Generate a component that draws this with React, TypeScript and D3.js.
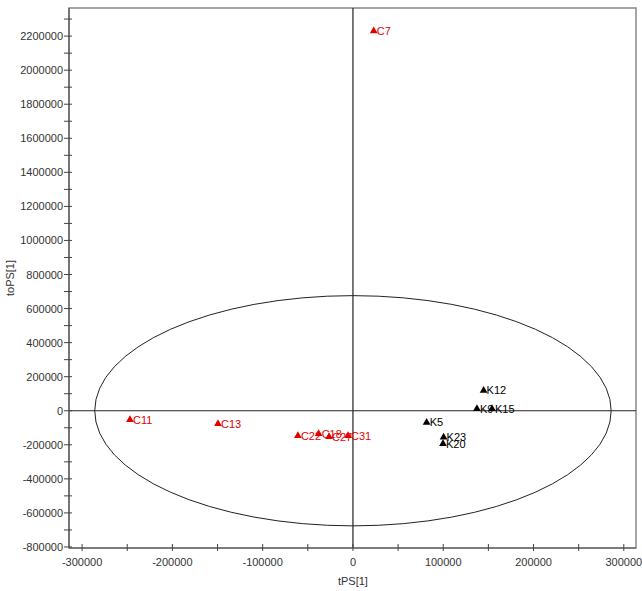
import React, { useEffect, useRef } from "react";
import * as d3 from "d3";

// score values
const names = ["C7", "C11", "C13", "C22", "C18", "C27", "C31", "K5", "K9", "K12", "K15", "K20", "K23"];
const tPS = [23000, -247000, -149500, -61000, -38000, -26500, -5500, 81600, 137300, 144700, 154000, 99700, 100400];
const toPS = [2230000, -53000, -76000, -147000, -135000, -153000, -147000, -69000, 12000, 119000, 12000, -194000, -155000];
const groups = ["C", "C", "C", "C", "C", "C", "C", "K", "K", "K", "K", "K", "K"];

const xTicks = [-300000, -200000, -100000, 0, 100000, 200000, 300000];
const yTicks = [-800000, -600000, -400000, -200000, 0, 200000, 400000, 600000, 800000, 1000000, 1200000, 1400000, 1600000, 1800000, 2000000, 2200000];
const ellipseRadii = [286000, 676000];

const W = 642;
const H = 591;

export default function App() {
  const ref = useRef<SVGSVGElement>(null);

  useEffect(() => {
    const svg = d3.select(ref.current);
    svg.selectAll("*").remove();

    const left = 69, right = 636, top = 8, bottom = 548;
    const x = d3.scaleLinear().domain([-314500, 313500]).range([left, right]);
    const y = d3.scaleLinear().domain([-806000, 2365000]).range([bottom, top]);

    const font = "'Liberation Sans', Arial, sans-serif";

    // frame
    svg.append("rect")
      .attr("x", left).attr("y", top)
      .attr("width", right - left).attr("height", bottom - top)
      .attr("fill", "white")
      .attr("stroke", "#888").attr("stroke-width", 1.5);

    // zero lines
    svg.append("line")
      .attr("x1", x(0)).attr("x2", x(0)).attr("y1", top).attr("y2", bottom)
      .attr("stroke", "#222").attr("stroke-width", 1.2);
    svg.append("line")
      .attr("x1", left).attr("x2", right).attr("y1", y(0)).attr("y2", y(0))
      .attr("stroke", "#222").attr("stroke-width", 1.2);

    // ellipse
    svg.append("ellipse")
      .attr("cx", x(0)).attr("cy", y(0))
      .attr("rx", x(ellipseRadii[0]) - x(0))
      .attr("ry", y(0) - y(ellipseRadii[1]))
      .attr("fill", "none").attr("stroke", "#222").attr("stroke-width", 1);

    // axes lines
    svg.append("line").attr("x1", left).attr("x2", left).attr("y1", top).attr("y2", bottom)
      .attr("stroke", "#555").attr("stroke-width", 1.2);
    svg.append("line").attr("x1", left).attr("x2", right).attr("y1", bottom).attr("y2", bottom)
      .attr("stroke", "#555").attr("stroke-width", 1.2);

    // x ticks
    const xMinor = d3.range(-300000, 300001, 50000);
    svg.append("g").selectAll("line").data(xMinor).enter().append("line")
      .attr("x1", d => x(d)).attr("x2", d => x(d))
      .attr("y1", bottom - 4).attr("y2", bottom + 3)
      .attr("stroke", "#444");
    svg.append("g").selectAll("text").data(xTicks).enter().append("text")
      .attr("x", d => x(d)).attr("y", bottom + 18)
      .attr("text-anchor", "middle")
      .style("font-family", font).style("font-size", "11px").style("fill", "#333")
      .text(d => String(d));

    // y ticks
    const yMinor = d3.range(-800000, 2300001, 100000);
    svg.append("g").selectAll("line").data(yMinor).enter().append("line")
      .attr("x1", left - 5).attr("x2", left + 3)
      .attr("y1", d => y(d)).attr("y2", d => y(d))
      .attr("stroke", "#444");
    svg.append("g").selectAll("text").data(yTicks).enter().append("text")
      .attr("x", left - 6).attr("y", d => y(d) + 4)
      .attr("text-anchor", "end")
      .style("font-family", font).style("font-size", "11px").style("fill", "#333")
      .text(d => String(d));

    // axis titles
    svg.append("text")
      .attr("x", x(0)).attr("y", 585)
      .attr("text-anchor", "middle")
      .style("font-family", font).style("font-size", "11px").style("fill", "#333")
      .text("tPS[1]");
    svg.append("text")
      .attr("transform", `translate(14 ${(top + bottom) / 2}) rotate(-90)`)
      .attr("text-anchor", "middle")
      .style("font-family", font).style("font-size", "11px").style("fill", "#333")
      .text("toPS[1]");

    // points
    const color = (g: string) => (g === "C" ? "#e00000" : "#000");
    const tri = d3.symbol().type(d3.symbolTriangle).size(26);
    const pts = svg.append("g").selectAll("g").data(names).enter().append("g")
      .attr("transform", (d, i) => `translate(${x(tPS[i])} ${y(toPS[i])})`);
    pts.append("path")
      .attr("d", tri)
      .attr("fill", (d, i) => color(groups[i]));
    pts.append("text")
      .attr("x", 3).attr("y", 4)
      .style("font-family", font).style("font-size", "11px")
      .style("fill", (d, i) => color(groups[i]))
      .text(d => d);
  }, []);

  return (
    <svg
      ref={ref}
      width={W}
      height={H}
      style={{ position: "absolute", left: 0, top: 0, background: "white" }}
    />
  );
}
